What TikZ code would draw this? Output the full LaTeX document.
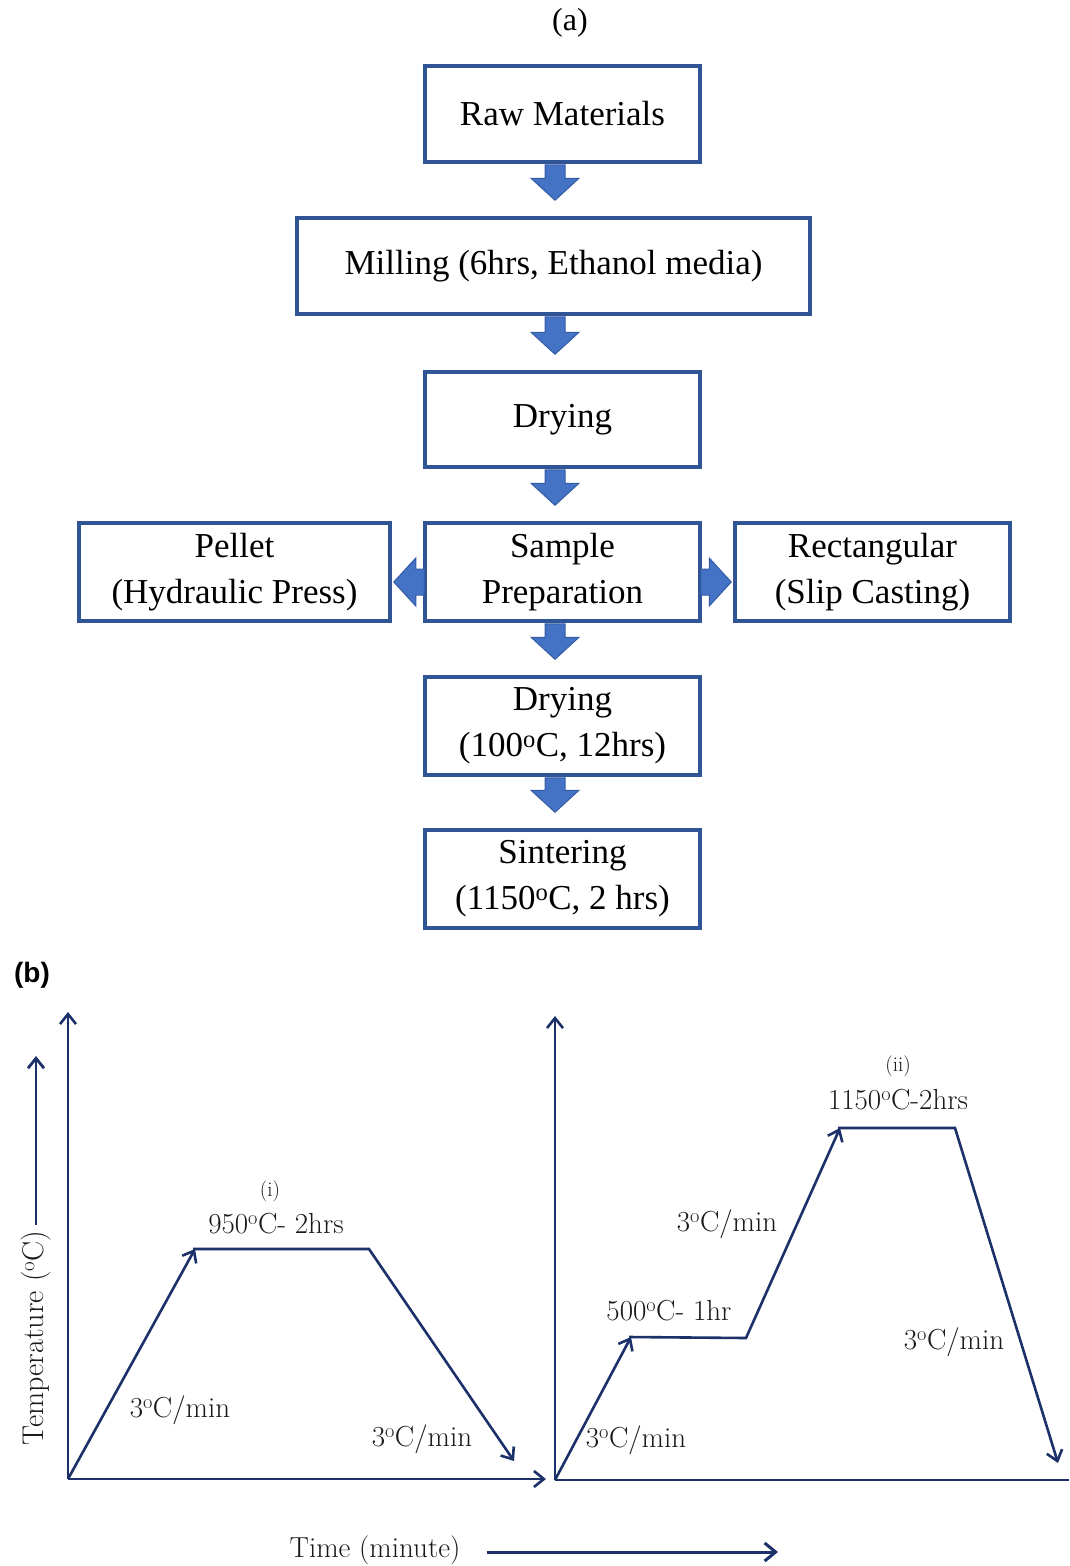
\documentclass[tikz,border=0pt]{standalone}
\usepackage{fontspec}
\newfontfamily\timesfont{Liberation Serif}
\newfontfamily\arialfont{Liberation Sans}
\usetikzlibrary{calc,arrows.meta}
\definecolor{boxblue}{RGB}{47,85,151}
\definecolor{arrowblue}{RGB}{68,114,196}
\definecolor{arrowedge}{RGB}{52,92,165}
\definecolor{navy}{RGB}{28,48,105}
\definecolor{txtgray}{RGB}{25,25,25}
\newcommand\degO{\textsuperscript{o}}
% vertical block arrow from node #1 (above) to node #2 (below)
\newcommand\dnarrow[2]{%
  \filldraw[blk] ($(ax |- #1.south)+(-10,1)$) -- ($(ax |- #2.north)+(-10,-38)$)
    -- ($(ax |- #2.north)+(-24,-38)$) -- ($(ax |- #2.north)+(0,-16)$)
    -- ($(ax |- #2.north)+(24,-38)$) -- ($(ax |- #2.north)+(10,-38)$)
    -- ($(ax |- #1.south)+(10,1)$) -- cycle;}
\begin{document}
\begin{tikzpicture}[x=1pt,y=-1pt]
\useasboundingbox[fill=white] (0,0) rectangle (1069,1566);
\tikzset{
  box/.style={draw=boxblue, line width=3.5pt, fill=white, inner sep=0pt,
    align=center, text=black, font=\timesfont\fontsize{35}{46}\selectfont},
  blk/.style={fill=arrowblue, draw=arrowedge, line width=1pt, line join=miter},
  axis/.style={draw=navy, line width=2.6pt},
  tip/.style={-{Straight Barb[length=10pt,width=16pt,line width=2.6pt]}},
  lbl/.style={font=\fontsize{29}{34}\selectfont\addfontfeatures{FakeBold=0.4}, text=txtgray, inner sep=0pt},
  small/.style={font=\fontsize{21}{24}\selectfont\addfontfeatures{FakeBold=0.3}, text=txtgray, inner sep=0pt},
}
% ---------- (a) flowchart ----------
\node[font=\timesfont\fontsize{32}{36}\selectfont, inner sep=0pt] (la) at (570,23) {(a)};
\node[box, minimum width=275pt, minimum height=96pt] (raw)  at (562.5,114) {Raw Materials};
\node[box, minimum width=513pt, minimum height=96pt] (mill) at (553.5,266) {Milling (6hrs, Ethanol media)};
\node[box, minimum width=275pt, minimum height=95pt] (dry1) at (562.5,419.5) {Drying};
\node[box, minimum width=275pt, minimum height=98pt] (samp) at (562.5,572) {Sample\\Preparation};
\node[box, minimum width=311pt, minimum height=98pt] (pel)  at (234.5,572) {Pellet\\(Hydraulic Press)};
\node[box, minimum width=275pt, minimum height=98pt] (rect) at (872.5,572) {Rectangular\\(Slip Casting)};
\node[box, minimum width=275pt, minimum height=98pt] (dry2) at (562.5,726) {Drying\\(100\degO C, 12hrs)};
\node[box, minimum width=275pt, minimum height=98pt] (sint) at (562.5,879) {Sintering\\(1150\degO C, 2 hrs)};
\coordinate (ax) at (555,0);
\coordinate (hy) at (0,582);
\dnarrow{raw}{mill}
\dnarrow{mill}{dry1}
\dnarrow{dry1}{samp}
\dnarrow{samp}{dry2}
\dnarrow{dry2}{sint}
% left block arrow
\filldraw[blk] ($(samp.west |- hy)+(1,-13)$) -- ($(pel.east |- hy)+(24,-13)$)
  -- ($(pel.east |- hy)+(24,-24)$) -- ($(pel.east |- hy)+(2,0)$)
  -- ($(pel.east |- hy)+(24,24)$) -- ($(pel.east |- hy)+(24,13)$)
  -- ($(samp.west |- hy)+(1,13)$) -- cycle;
% right block arrow
\filldraw[blk] ($(samp.east |- hy)+(-1,-13)$) -- ($(rect.west |- hy)+(-24,-13)$)
  -- ($(rect.west |- hy)+(-24,-24)$) -- ($(rect.west |- hy)+(-2,0)$)
  -- ($(rect.west |- hy)+(-24,24)$) -- ($(rect.west |- hy)+(-24,13)$)
  -- ($(samp.east |- hy)+(-1,13)$) -- cycle;
% ---------- (b) heating profiles ----------
\node[font=\arialfont\bfseries\fontsize{28}{32}\selectfont, inner sep=0pt] (lb) at (32,975) {(b)};
% left chart
\coordinate (O1) at (68,1479);
\coordinate (Y1) at (68,1012);
\coordinate (X1) at (546,1479);
\coordinate (A1) at (195,1249);
\coordinate (B1) at (369,1249);
\coordinate (C1) at (514,1461);
\draw[axis,tip] (O1) -- (Y1);
\draw[axis,tip] (O1) -- (X1);
\draw[axis,tip] (O1) -- (A1);
\draw[axis,tip] ($(A1)+(-2,0)$) -- (B1) -- (C1);
\node[small] (i1) at (270,1191) {(i)};
\node[lbl] (p1) at (276,1224) {950\degO C- 2hrs};
\node[lbl] (r1) at (180,1410) {3\degO C/min};
\node[lbl] (r2) at (422,1439) {3\degO C/min};
% right chart
\coordinate (O2) at (555,1480);
\coordinate (Y2) at (555,1016);
\coordinate (X2) at (1069,1480);
\coordinate (A2) at (631,1337);
\coordinate (B2) at (746,1338);
\coordinate (C2) at (840,1128);
\coordinate (D2) at (955,1128);
\coordinate (E2) at (1058,1463);
\draw[axis,tip] (O2) -- (Y2);
\draw[axis] (O2) -- (X2);
\draw[axis,tip] (O2) -- (A2);
\draw[axis,tip] ($(A2)+(-2,0)$) -- (B2) -- (C2);
\draw[axis,tip] ($(C2)+(-2,0)$) -- (D2) -- (E2);
\node[small] (i2) at (898,1066) {(ii)};
\node[lbl] (p2) at (898,1100) {1150\degO C-2hrs};
\node[lbl] (r3) at (727,1224) {3\degO C/min};
\node[lbl] (p3) at (669,1311) {500\degO C- 1hr};
\node[lbl] (r4) at (954,1342) {3\degO C/min};
\node[lbl] (r5) at (636,1440) {3\degO C/min};
% axis titles
\node[lbl, rotate=90, font=\fontsize{30}{34}\selectfont\addfontfeatures{FakeBold=0.4}] (temp) at (36,1338) {Temperature (\degO C)};
\coordinate (ttip) at (36,1056);
\draw[axis, line width=2.8pt, -{Straight Barb[length=10pt,width=16pt,line width=2.8pt]}] ($(temp.east)+(0,-5)$) -- (ttip);
\node[lbl] (time) at (375,1550) {Time (minute)};
\coordinate (tend) at (778,1552);
\draw[axis, line width=3pt, -{Straight Barb[length=11pt,width=18pt,line width=3pt]}] ($(time.east |- tend)+(26,0)$) -- (tend);
\end{tikzpicture}
\end{document}
